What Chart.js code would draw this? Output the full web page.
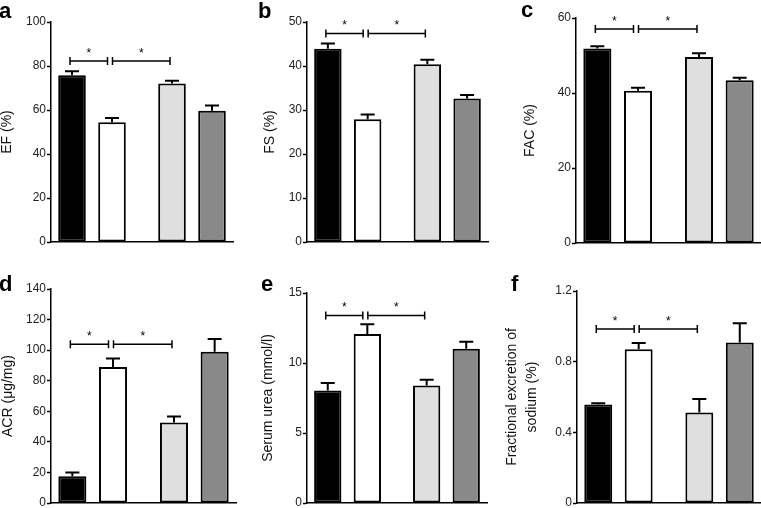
<!DOCTYPE html>
<html>
<head>
<meta charset="utf-8">
<script src="https://cdn.jsdelivr.net/npm/chart.js@4.4.1/dist/chart.umd.min.js"></script>
<style>
  html, body { margin: 0; padding: 0; background: #fff; }
  #fig { position: relative; width: 761px; height: 508px; overflow: hidden; }
  #fig canvas { position: absolute; }
  .tag { position: absolute; font: bold 22px 'Liberation Sans', Arial, sans-serif; line-height: 22px; color: #000; }
</style>
</head>
<body>
<div id="fig">
  <canvas id="chartA" width="250" height="254" style="left:0;top:0"></canvas>
  <canvas id="chartB" width="250" height="254" style="left:250px;top:0"></canvas>
  <canvas id="chartC" width="261" height="254" style="left:500px;top:0"></canvas>
  <canvas id="chartD" width="250" height="262" style="left:0;top:254px"></canvas>
  <canvas id="chartE" width="250" height="262" style="left:250px;top:254px"></canvas>
  <canvas id="chartF" width="261" height="262" style="left:500px;top:254px"></canvas>
  <div class="tag" style="left:-1px;top:0">a</div>
  <div class="tag" style="left:258px;top:0">b</div>
  <div class="tag" style="left:521px;top:-1px">c</div>
  <div class="tag" style="left:-1px;top:273px">d</div>
  <div class="tag" style="left:261px;top:273px">e</div>
  <div class="tag" style="left:511px;top:273px">f</div>
</div>
<script>
// 4 groups, drawn as two pairs: (1, 2) and (3, 4)
const groups = ['Group 1', 'Group 2', 'Group 3', 'Group 4'];
const groupFill = ['#000000', '#ffffff', '#dfdfdf', '#898989'];

// significance brackets between groups (index into groups)
const sigPairs = [[0, 1], [1, 2]];
const sigMark = '*';

const ef = [75.8, 54.4, 72.0, 59.7];
const efErr = [1.8, 2.0, 1.3, 2.4];
const efTicks = ['0', '20', '40', '60', '80', '100'];
const efSig = 82.3;

const fs = [43.9, 27.9, 40.4, 32.6];
const fsErr = [1.2, 1.1, 1.0, 0.8];
const fsTicks = ['0', '10', '20', '30', '40', '50'];
const fsSig = 47.4;

const fac = [51.9, 40.6, 49.6, 43.4];
const facErr = [0.6, 0.8, 1.0, 0.7];
const facTicks = ['0', '20', '40', '60'];
const facSig = 57.1;

const acr = [17.5, 88.9, 52.7, 99.0];
const acrErr = [2.4, 5.7, 3.9, 8.3];
const acrTicks = ['0', '20', '40', '60', '80', '100', '120', '140'];
const acrSig = 103.8;

const urea = [8.04, 12.07, 8.4, 11.02];
const ureaErr = [0.53, 0.69, 0.41, 0.5];
const ureaTicks = ['0', '5', '10', '15'];
const ureaSig = 13.4;

const fena = [0.557, 0.87, 0.512, 0.908];
const fenaErr = [0.007, 0.036, 0.077, 0.109];
const fenaTicks = ['0', '0.4', '0.8', '1.2'];
const fenaSig = 0.985;

Chart.defaults.font.family = "'Liberation Sans', Arial, sans-serif";
Chart.defaults.color = '#111';

const errorBars = {
    id: 'errorBars',
    afterDatasetsDraw(chart) {
        const ctx = chart.ctx;
        const yScale = chart.scales.y;
        chart.data.datasets.forEach((ds, di) => {
            chart.getDatasetMeta(di).data.forEach((bar, i) => {
                const top = yScale.getPixelForValue(ds.data[i].y + ds.errors[i]);
                ctx.save();
                ctx.strokeStyle = '#000';
                ctx.lineWidth = 2;
                ctx.beginPath();
                ctx.moveTo(bar.x, bar.y);
                ctx.lineTo(bar.x, top);
                ctx.moveTo(bar.x - 7, top);
                ctx.lineTo(bar.x + 7, top);
                ctx.stroke();
                ctx.restore();
            });
        });
    }
};

function makeBrackets(level) {
    return {
        id: 'brackets',
        afterDatasetsDraw(chart) {
            const ctx = chart.ctx;
            const y = chart.scales.y.getPixelForValue(level);
            const centerOf = g => chart.getDatasetMeta(g % 2).data[Math.floor(g / 2)].x;
            sigPairs.forEach(([a, b]) => {
                const joinL = sigPairs.some(p => p[1] === a);
                const joinR = sigPairs.some(p => p[0] === b);
                const x1 = centerOf(a) - 2 + (joinL ? 2.5 : 0);
                const x2 = centerOf(b) - 2 - (joinR ? 2.5 : 0);
                ctx.save();
                ctx.strokeStyle = '#000';
                ctx.lineWidth = 1.5;
                ctx.beginPath();
                ctx.moveTo(x1, y); ctx.lineTo(x2, y);
                ctx.moveTo(x1, y - 4); ctx.lineTo(x1, y + 4);
                ctx.moveTo(x2, y - 4); ctx.lineTo(x2, y + 4);
                ctx.stroke();
                ctx.fillStyle = '#000';
                ctx.font = "12px 'Liberation Sans', Arial, sans-serif";
                ctx.textAlign = 'center';
                ctx.textBaseline = 'alphabetic';
                ctx.fillText(sigMark, (x1 + x2) / 2, y - 4);
                ctx.restore();
            });
        }
    };
}

function pairSeries(values, errors, k) {
    const idx = [k, k + 2];
    return {
        label: idx.map(i => groups[i]).join(' / '),
        data: idx.map((i, p) => ({ x: p, y: values[i] })),
        errors: idx.map(i => errors[i]),
        backgroundColor: idx.map(i => groupFill[i]),
        borderColor: '#000',
        borderWidth: 2,
        borderSkipped: false,
        categoryPercentage: 0.8,
        barPercentage: 0.69
    };
}

function drawPanel(id, title, values, errors, tickLabels, sigLevel, box) {
    const tickVals = tickLabels.map(Number);
    new Chart(document.getElementById(id), {
        type: 'bar',
        data: { datasets: [pairSeries(values, errors, 0), pairSeries(values, errors, 1)] },
        options: {
            responsive: false,
            animation: false,
            layout: { padding: { left: 0, top: box.top, right: box.right, bottom: box.bottom } },
            plugins: { legend: { display: false }, tooltip: { enabled: false } },
            scales: {
                x: {
                    type: 'linear',
                    offset: false,
                    min: -0.41,
                    max: 1.41,
                    afterBuildTicks: s => { s.ticks = [{ value: 0 }, { value: 1 }]; },
                    afterFit: s => { s.height = 0; },
                    ticks: { display: false },
                    grid: { display: true, drawOnChartArea: false, drawTicks: false },
                    border: { color: '#000', width: 1.5 }
                },
                y: {
                    min: tickVals[0],
                    max: tickVals[tickVals.length - 1],
                    afterBuildTicks: s => { s.ticks = tickVals.map(v => ({ value: v })); },
                    afterFit: s => { s.width = box.yw; },
                    ticks: {
                        autoSkip: false,
                        padding: 1,
                        color: '#222',
                        font: { size: 12 },
                        callback: (v, i) => tickLabels[i]
                    },
                    grid: { drawOnChartArea: false, drawTicks: true, tickLength: 4, tickColor: '#000', tickWidth: 1.5, color: '#000' },
                    border: { color: '#000', width: 1.5 },
                    title: {
                        display: true,
                        text: title,
                        color: '#111',
                        font: { size: 14, lineHeight: box.lh || 1 },
                        padding: { top: box.tp, bottom: 0 }
                    }
                }
            }
        },
        plugins: [errorBars, makeBrackets(sigLevel)]
    });
}

drawPanel('chartA', 'EF (%)', ef, efErr, efTicks, efSig, { yw: 51, top: 22, bottom: 12, right: 17, tp: 0 });
drawPanel('chartB', 'FS (%)', fs, fsErr, fsTicks, fsSig, { yw: 57, top: 22, bottom: 12, right: 12, tp: 13 });
drawPanel('chartC', 'FAC (%)', fac, facErr, facTicks, facSig, { yw: 76, top: 18, bottom: 11, right: 0, tp: 23 });
drawPanel('chartD', 'ACR (μg/mg)', acr, acrErr, acrTicks, acrSig, { yw: 51, top: 35, bottom: 13, right: 14, tp: 1 });
drawPanel('chartE', 'Serum urea (mmol/l)', urea, ureaErr, ureaTicks, ureaSig, { yw: 57, top: 39, bottom: 13, right: 13, tp: 11 });
drawPanel('chartF', ['Fractional excretion of', 'sodium (%)'], fena, fenaErr, fenaTicks, fenaSig, { yw: 77, top: 37, bottom: 13, right: 0, tp: 2, lh: 20 / 14 });
</script>
</body>
</html>
